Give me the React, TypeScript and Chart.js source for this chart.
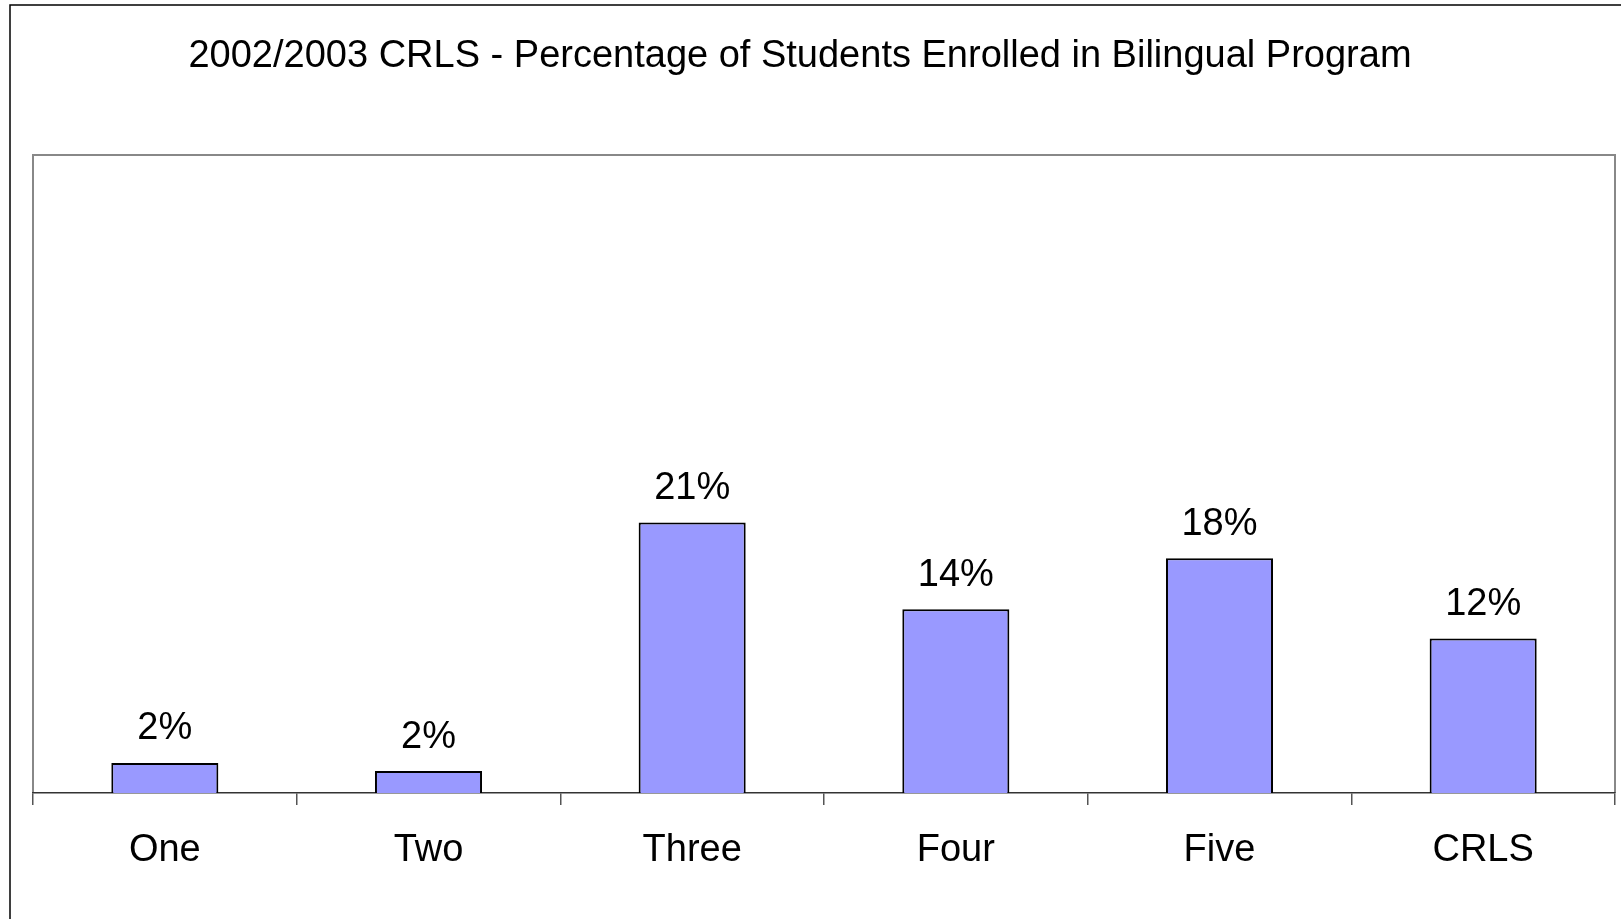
import React, { useEffect, useRef } from "react";
import { Chart, registerables } from "chart.js";

Chart.register(...registerables);

const TITLE = "2002/2003 CRLS - Percentage of Students Enrolled in Bilingual Program";
const categories = ["One", "Two", "Three", "Four", "Five", "CRLS"];
const percentages = [2.35, 1.72, 21.2, 14.4, 18.4, 12.1];
const yMax = 50;

const FONT = "'Liberation Sans', Arial, sans-serif";

const framePlugin = {
  id: "frame",
  beforeDraw(chart: any) {
    const ctx = chart.ctx;
    const a = chart.chartArea;
    ctx.save();
    ctx.fillStyle = "#ffffff";
    ctx.fillRect(0, 0, chart.width, chart.height);
    // outer border
    ctx.strokeStyle = "#000000";
    ctx.lineWidth = 1.5;
    ctx.strokeRect(10, 5, chart.width + 20, chart.height + 20);
    // plot area border
    ctx.strokeStyle = "#888888";
    ctx.lineWidth = 2;
    ctx.beginPath();
    ctx.moveTo(a.left, a.bottom);
    ctx.lineTo(a.left, a.top);
    ctx.lineTo(a.right, a.top);
    ctx.lineTo(a.right, a.bottom);
    ctx.stroke();
    // title
    ctx.fillStyle = "#000000";
    ctx.font = `38px ${FONT}`;
    ctx.textAlign = "center";
    ctx.textBaseline = "middle";
    ctx.fillText(TITLE, 800, 57);
    ctx.restore();
  },
  afterDatasetsDraw(chart: any) {
    const ctx = chart.ctx;
    const meta = chart.getDatasetMeta(0);
    const data = chart.data.datasets[0].data as number[];
    ctx.save();
    ctx.fillStyle = "#000000";
    ctx.font = `38px ${FONT}`;
    ctx.textAlign = "center";
    ctx.textBaseline = "middle";
    meta.data.forEach((bar: any, i: number) => {
      ctx.fillText(Math.round(data[i]) + "%", bar.x, bar.y - 34);
    });
    ctx.restore();
  },
};

export default function App() {
  const ref = useRef<HTMLCanvasElement | null>(null);
  useEffect(() => {
    if (!ref.current) return;
    const chart = new Chart(ref.current, {
      type: "bar",
      data: {
        labels: categories,
        datasets: [
          {
            data: percentages,
            backgroundColor: "#9999FF",
            borderColor: "#000000",
            borderWidth: 2,
            barPercentage: 0.406,
            categoryPercentage: 1,
          },
        ],
      },
      options: {
        animation: false,
        responsive: true,
        maintainAspectRatio: false,
        layout: { padding: { left: 33, right: 6, top: 155, bottom: 0 } },
        plugins: {
          legend: { display: false },
          title: { display: false },
          tooltip: { enabled: false },
        },
        scales: {
          y: {
            display: false,
            min: 0,
            max: yMax,
          },
          x: {
            offset: true,
            grid: {
              offset: true,
              drawOnChartArea: false,
              drawTicks: true,
              tickLength: 12,
              color: "#555555",
              lineWidth: 1.5,
            },
            border: { color: "#333333", width: 1.5 },
            ticks: {
              color: "#000000",
              font: { family: FONT, size: 38 },
              padding: 23,
              maxRotation: 0,
            },
            afterFit(scale: any) {
              scale.height = 126;
            },
          },
        },
      },
      plugins: [framePlugin],
    });
    return () => chart.destroy();
  }, []);
  return (
    <div style={{ position: "fixed", left: 0, top: 0, width: 1621, height: 919, background: "#fff" }}>
      <canvas ref={ref} />
    </div>
  );
}
